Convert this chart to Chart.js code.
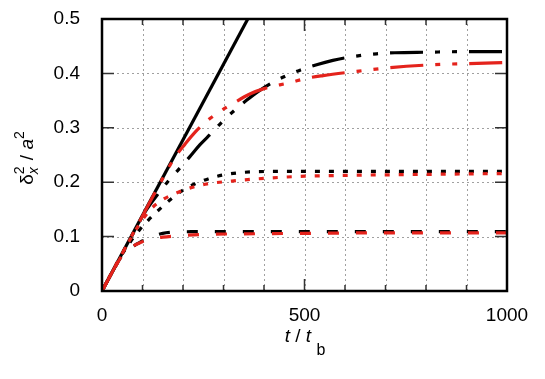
<!DOCTYPE html>
<html>
<head>
<meta charset="utf-8">
<script src="https://cdn.jsdelivr.net/npm/chart.js@4.4.1/dist/chart.umd.min.js"></script>
<style>
  body { margin: 0; background: #fff; }
  canvas { display: block; }
</style>
</head>
<body>
<canvas id="msdChart" width="545" height="379"></canvas>
<script>
// axis ticks
const xTicks = [0, 100, 200, 300, 400, 500, 600, 700, 800, 900, 1000];
const xTickLabels = ['0', '500', '1000'];
const yTicks = [0, 0.1, 0.2, 0.3, 0.4, 0.5];
const yTickLabels = ['0', '0.1', '0.2', '0.3', '0.4', '0.5'];

// free diffusion (solid line)
const freeT = [0, 370];
const freeY = [0, 0.514];

// largest confinement (dash-dot)
const redTopT = [0, 50, 100, 150, 180, 205, 230, 260, 291, 324, 365, 400, 464, 505, 546, 620, 703, 818, 900, 1000];
const redTopY = [0, 0.069, 0.138, 0.207, 0.246, 0.27, 0.292, 0.313, 0.330, 0.345, 0.362, 0.372, 0.383, 0.391, 0.396, 0.403, 0.41, 0.416, 0.418, 0.42];
const blkTopT = [0, 40, 80, 106, 140, 168, 191, 217, 242, 270, 298, 324, 356, 386, 420, 456, 489, 530, 570, 604, 640, 678, 723, 802, 900, 1000];
const blkTopY = [0, 0.055, 0.11, 0.145, 0.18, 0.206, 0.225, 0.247, 0.269, 0.29, 0.312, 0.330, 0.35, 0.367, 0.383, 0.396, 0.406, 0.416, 0.424, 0.429, 0.433, 0.436, 0.438, 0.439, 0.44, 0.44];

// medium confinement (dotted)
const redMidT = [0, 50, 90, 120, 150, 180, 220, 260, 320, 400, 500, 600, 750, 1000];
const redMidY = [0, 0.069, 0.12, 0.15, 0.168, 0.179, 0.19, 0.197, 0.202, 0.207, 0.211, 0.2125, 0.214, 0.216];
const blkMidT = [0, 50, 90, 114, 143, 172, 201, 230, 262, 296, 333, 370, 450, 600, 1000];
const blkMidY = [0, 0.068, 0.11, 0.13, 0.151, 0.170, 0.186, 0.197, 0.206, 0.213, 0.217, 0.219, 0.22, 0.22, 0.22];

// small confinement (dashed)
const redBotT = [0, 30, 52, 64, 80, 98, 114, 150, 180, 254, 350, 500, 700, 1000];
const redBotY = [0, 0.041, 0.068, 0.076, 0.084, 0.09, 0.095, 0.099, 0.101, 0.104, 0.105, 0.106, 0.107, 0.107];
const blkBotT = [0, 30, 50, 65, 81, 90, 110, 130, 150, 175, 220, 300, 1000];
const blkBotY = [0, 0.041, 0.066, 0.077, 0.084, 0.088, 0.096, 0.102, 0.106, 0.108, 0.109, 0.109, 0.109];

const RED = 'rgb(228, 35, 28)';
const BLACK = '#000';
const FONT = 'Liberation Sans, Arial, sans-serif';

const pts = (t, y) => t.map((v, i) => ({ x: v, y: y[i] }));

function series(t, y, color, dash) {
    return {
        data: pts(t, y),
        borderColor: color,
        borderWidth: 3.2,
        borderDash: dash,
        pointRadius: 0,
        fill: false,
        cubicInterpolationMode: 'monotone'
    };
}

// dotted grid under the curves
const gnuGrid = {
    id: 'gnuGrid',
    beforeDatasetsDraw(chart) {
        const { ctx, chartArea: a, scales: { x, y } } = chart;
        ctx.save();
        ctx.strokeStyle = '#a0a0a0';
        ctx.lineWidth = 1;
        ctx.setLineDash([2, 3]);
        ctx.beginPath();
        xTicks.slice(1, -1).forEach(v => {
            const px = Math.round(x.getPixelForValue(v)) + 0.5;
            ctx.moveTo(px, a.top); ctx.lineTo(px, a.bottom);
        });
        yTicks.slice(1, -1).forEach(v => {
            const py = Math.round(y.getPixelForValue(v)) + 0.5;
            ctx.moveTo(a.left, py); ctx.lineTo(a.right, py);
        });
        ctx.stroke();
        ctx.restore();
    }
};

// frame, inward ticks and axis titles (gnuplot style)
const gnuFrame = {
    id: 'gnuFrame',
    afterDraw(chart) {
        const { ctx, chartArea: a, scales: { x, y } } = chart;
        ctx.save();
        ctx.strokeStyle = '#333';
        ctx.lineWidth = 1.5;
        ctx.beginPath();
        yTicks.forEach(v => {
            const py = y.getPixelForValue(v);
            ctx.moveTo(a.left, py); ctx.lineTo(a.left + 12, py);
            ctx.moveTo(a.right, py); ctx.lineTo(a.right - 12, py);
        });
        xTicks.forEach(v => {
            const px = x.getPixelForValue(v);
            const len = v % 500 === 0 ? 12 : 6;
            ctx.moveTo(px, a.bottom); ctx.lineTo(px, a.bottom - len);
            ctx.moveTo(px, a.top); ctx.lineTo(px, a.top + len);
        });
        ctx.stroke();

        ctx.strokeStyle = '#000';
        ctx.lineWidth = 2.5;
        ctx.strokeRect(a.left, a.top, a.right - a.left, a.bottom - a.top);

        // x title: t / t_b
        ctx.fillStyle = '#000';
        ctx.textBaseline = 'alphabetic';
        ctx.textAlign = 'left';
        const it = 'italic 19px ' + FONT;
        const up = '19px ' + FONT;
        const sm = '16px ' + FONT;
        const xParts = [
            { s: 't', f: it, dy: 0 },
            { s: ' / ', f: up, dy: 0 },
            { s: 't', f: it, dy: 0 },
            { s: ' ', f: up, dy: 0 },
            { s: 'b', f: sm, dy: 13 }
        ];
        let w = 0;
        xParts.forEach(p => { ctx.font = p.f; p.w = ctx.measureText(p.s).width; w += p.w; });
        let cx = 305 - w / 2;
        xParts.forEach(p => { ctx.font = p.f; ctx.fillText(p.s, cx, 342 + p.dy); cx += p.w; });

        // y title: delta_x^2 / a^2
        ctx.translate(33, 158);
        ctx.rotate(-Math.PI / 2);
        const supF = '14px ' + FONT;
        const subF = 'italic 14px ' + FONT;
        ctx.font = up;
        const wd = ctx.measureText('\u03b4').width;
        ctx.font = supF;
        const w2 = ctx.measureText('2').width;
        ctx.font = up;
        const wsl = ctx.measureText(' / ').width;
        ctx.font = it;
        const wa = ctx.measureText('a').width;
        const total = wd + w2 + 1 + wsl + wa + w2;
        let px = -total / 2;
        ctx.font = up;
        ctx.fillText('\u03b4', px, 0);
        px += wd;
        ctx.font = supF;
        ctx.fillText('2', px, -9);
        ctx.font = subF;
        ctx.fillText('x', px, 5);
        px += w2 + 1;
        ctx.font = up;
        ctx.fillText(' / ', px, 0);
        px += wsl;
        ctx.font = it;
        ctx.fillText('a', px, 0);
        px += wa;
        ctx.font = supF;
        ctx.fillText('2', px, -9);
        ctx.restore();
    }
};

const ctx = document.getElementById('msdChart').getContext('2d');
const msdChart = new Chart(ctx, {
    type: 'line',
    data: {
        datasets: [
            series(redTopT, redTopY, RED, [33, 12, 5, 12, 5, 12]),
            series(redMidT, redMidY, RED, [5, 9]),
            series(redBotT, redBotY, RED, [11, 17]),
            series(blkTopT, blkTopY, BLACK, [33, 12, 5, 12, 5, 12]),
            series(blkMidT, blkMidY, BLACK, [5, 9]),
            series(blkBotT, blkBotY, BLACK, [11, 17]),
            series(freeT, freeY, BLACK, [])
        ]
    },
    options: {
        responsive: false,
        animation: false,
        layout: { padding: { top: 19, right: 38, left: 0, bottom: 0 } },
        plugins: {
            legend: { display: false },
            tooltip: { enabled: false }
        },
        scales: {
            x: {
                type: 'linear',
                min: 0,
                max: 1000,
                afterFit: s => { s.height = 88; s.paddingLeft = 0; s.paddingRight = 0; },
                afterBuildTicks: s => { s.ticks = xTicks.map(v => ({ value: v })); },
                border: { display: false },
                grid: { display: false },
                ticks: {
                    autoSkip: false,
                    maxRotation: 0,
                    padding: 5,
                    color: '#000',
                    font: { family: FONT, size: 19 },
                    callback: v => xTickLabels.includes(String(v)) ? String(v) : ''
                }
            },
            y: {
                min: 0,
                max: 0.5,
                afterFit: s => { s.width = 102; s.paddingTop = 0; s.paddingBottom = 0; },
                afterBuildTicks: s => { s.ticks = yTicks.map(v => ({ value: v })); },
                border: { display: false },
                grid: { display: false },
                ticks: {
                    padding: 14,
                    color: '#000',
                    font: { family: FONT, size: 19 },
                    callback: (v, i) => yTickLabels[i]
                }
            }
        }
    },
    plugins: [gnuGrid, gnuFrame]
});
</script>
</body>
</html>
